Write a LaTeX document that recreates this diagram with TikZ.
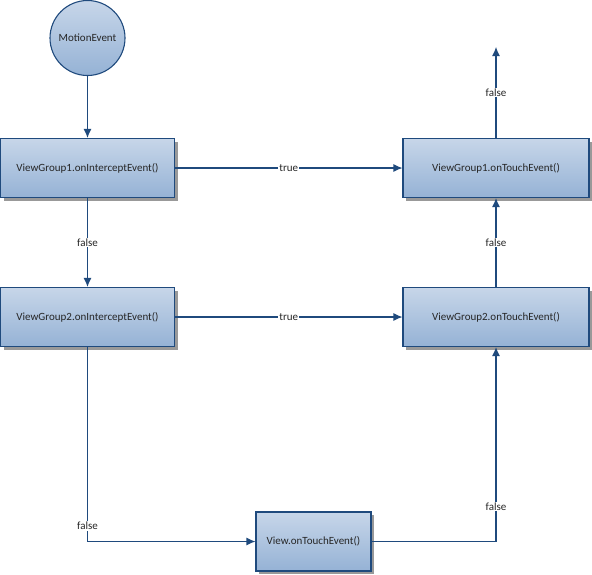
\documentclass[tikz,border=0pt]{standalone}
\usepackage{fontspec}
\setmainfont{Carlito}
\usetikzlibrary{arrows.meta,shadows}
\definecolor{flowblue}{HTML}{1F4A7D}
\definecolor{boxtop}{HTML}{C7D6E9}
\definecolor{boxbot}{HTML}{95B2D5}
\definecolor{txtgray}{HTML}{262626}
\begin{document}
\begin{tikzpicture}[>={Latex[length=9pt,width=8pt]}, x=1pt, y=-1pt,
  every node/.style={font=\fontsize{11}{13}\selectfont, text=txtgray},
  callbox/.style={draw=flowblue, line width=1.1pt, top color=boxtop, bottom color=boxbot,
    minimum height=59pt, drop shadow={shadow xshift=3pt, shadow yshift=-3pt, fill=black!40, opacity=1}},
  flow/.style={draw=flowblue, line width=1.1pt},
  cond/.style={fill=white, inner sep=1pt}]
\useasboundingbox (0,0) rectangle (592,574);

\node[circle, draw=flowblue, line width=1.1pt, top color=boxtop, bottom color=boxbot,
  minimum size=75pt, inner sep=0pt] (motion) at (87.5,38) {MotionEvent};
\node[callbox, minimum width=174pt] (ig1) at (87.5,168) {ViewGroup1.onInterceptEvent()};
\node[callbox, minimum width=186pt] (tg1) at (496,168) {ViewGroup1.onTouchEvent()};
\node[callbox, minimum width=174pt] (ig2) at (87.5,317) {ViewGroup2.onInterceptEvent()};
\node[callbox, minimum width=186pt] (tg2) at (496,317) {ViewGroup2.onTouchEvent()};
\node[callbox, minimum width=115pt] (view) at (313.5,541.5) {View.onTouchEvent()};
\coordinate (out) at (496,47);

\draw[flow,->] (motion) -- (ig1);
\draw[flow,->] (ig1) -- node[cond]{true} (tg1);
\draw[flow,->] (ig1) -- node[cond]{false} (ig2);
\draw[flow,->] (ig2) -- node[cond]{true} (tg2);
\draw[flow,->] (ig2) |- node[cond, pos=0.46]{false} (view);
\draw[flow,->] (view) -| node[cond, pos=0.59]{false} (tg2);
\draw[flow,->] (tg2) -- node[cond]{false} (tg1);
\draw[flow,->] (tg1) -- node[cond]{false} (out);

\end{tikzpicture}
\end{document}
